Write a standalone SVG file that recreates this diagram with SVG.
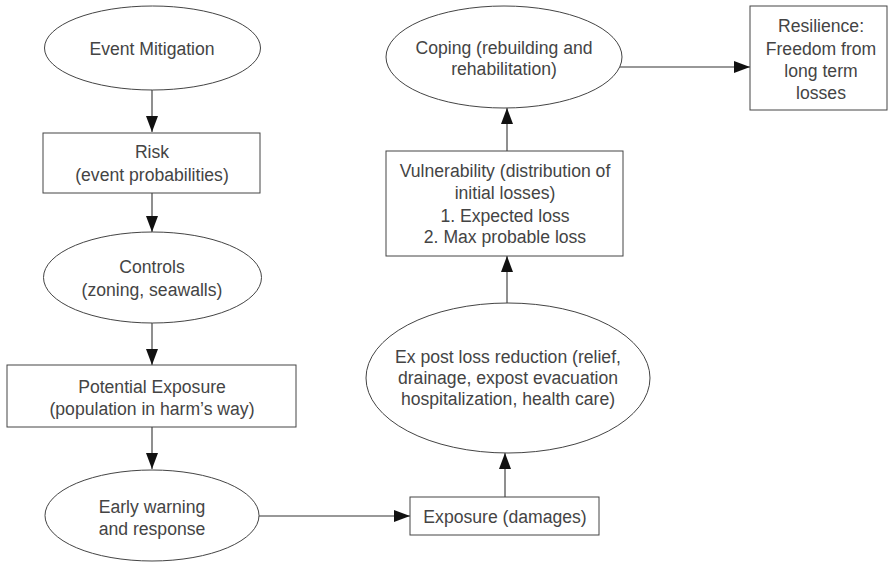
<svg xmlns="http://www.w3.org/2000/svg" width="894" height="565" viewBox="0 0 894 565">
<style>
  .shape { fill: #fff; stroke: #444; stroke-width: 1; }
  .lbl { font-family: "Liberation Sans", Arial, sans-serif; font-size: 17.6px; fill: #444; text-anchor: middle; }
  .conn { stroke: #333; stroke-width: 1.1; fill: none; marker-end: url(#arr); }
</style>
<defs>
  <marker id="arr" markerUnits="userSpaceOnUse" markerWidth="16" markerHeight="12" refX="16" refY="6" orient="auto">
    <path d="M0,0 L16,6 L0,12 z" fill="#111"/>
  </marker>
</defs>
<rect width="894" height="565" fill="#fff"/>
<g id="connectors">
  <line class="conn" x1="152" y1="90" x2="152" y2="132"/>
  <line class="conn" x1="152" y1="193" x2="152" y2="232"/>
  <line class="conn" x1="152" y1="323" x2="152" y2="365"/>
  <line class="conn" x1="152" y1="427" x2="152" y2="469"/>
  <line class="conn" x1="259" y1="516" x2="410" y2="516"/>
  <line class="conn" x1="505" y1="497" x2="505" y2="453"/>
  <line class="conn" x1="507" y1="303" x2="507" y2="256"/>
  <line class="conn" x1="507" y1="151" x2="507" y2="108"/>
  <line class="conn" x1="620" y1="67" x2="750" y2="67"/>
</g>
<g id="event-mitigation">
  <ellipse class="shape" cx="152.5" cy="48" rx="108" ry="42"/>
  <text class="lbl" x="152" y="55">Event Mitigation</text>
</g>
<g id="risk">
  <rect class="shape" x="43" y="133" width="217" height="60"/>
  <text class="lbl" x="152" y="158">Risk</text>
  <text class="lbl" x="152" y="181">(event probabilities)</text>
</g>
<g id="controls">
  <ellipse class="shape" cx="152.5" cy="277.5" rx="109" ry="45.5"/>
  <text class="lbl" x="152" y="273">Controls</text>
  <text class="lbl" x="152" y="296">(zoning, seawalls)</text>
</g>
<g id="potential-exposure">
  <rect class="shape" x="7" y="365" width="289" height="62"/>
  <text class="lbl" x="152" y="393">Potential Exposure</text>
  <text class="lbl" x="152" y="415">(population in harm’s way)</text>
</g>
<g id="early-warning">
  <ellipse class="shape" cx="152" cy="515.5" rx="107" ry="45.5"/>
  <text class="lbl" x="152" y="513">Early warning</text>
  <text class="lbl" x="152" y="535">and response</text>
</g>
<g id="exposure">
  <rect class="shape" x="410" y="497" width="189" height="38"/>
  <text class="lbl" x="505" y="523">Exposure (damages)</text>
</g>
<g id="ex-post">
  <ellipse class="shape" cx="508" cy="378" rx="142" ry="75"/>
  <text class="lbl" x="508" y="363">Ex post loss reduction (relief,</text>
  <text class="lbl" x="508" y="384">drainage, expost evacuation</text>
  <text class="lbl" x="508" y="405">hospitalization, health care)</text>
</g>
<g id="vulnerability">
  <rect class="shape" x="386" y="151" width="237" height="105"/>
  <text class="lbl" x="505" y="177">Vulnerability (distribution of</text>
  <text class="lbl" x="505" y="199">initial losses)</text>
  <text class="lbl" x="505" y="222">1. Expected loss</text>
  <text class="lbl" x="505" y="243">2. Max probable loss</text>
</g>
<g id="coping">
  <ellipse class="shape" cx="504" cy="57" rx="118" ry="51"/>
  <text class="lbl" x="504" y="54">Coping (rebuilding and</text>
  <text class="lbl" x="504" y="75">rehabilitation)</text>
</g>
<g id="resilience">
  <rect class="shape" x="750" y="6" width="137" height="104"/>
  <text class="lbl" x="821" y="32">Resilience:</text>
  <text class="lbl" x="821" y="55">Freedom from</text>
  <text class="lbl" x="821" y="77">long term</text>
  <text class="lbl" x="821" y="99">losses</text>
</g>
</svg>
